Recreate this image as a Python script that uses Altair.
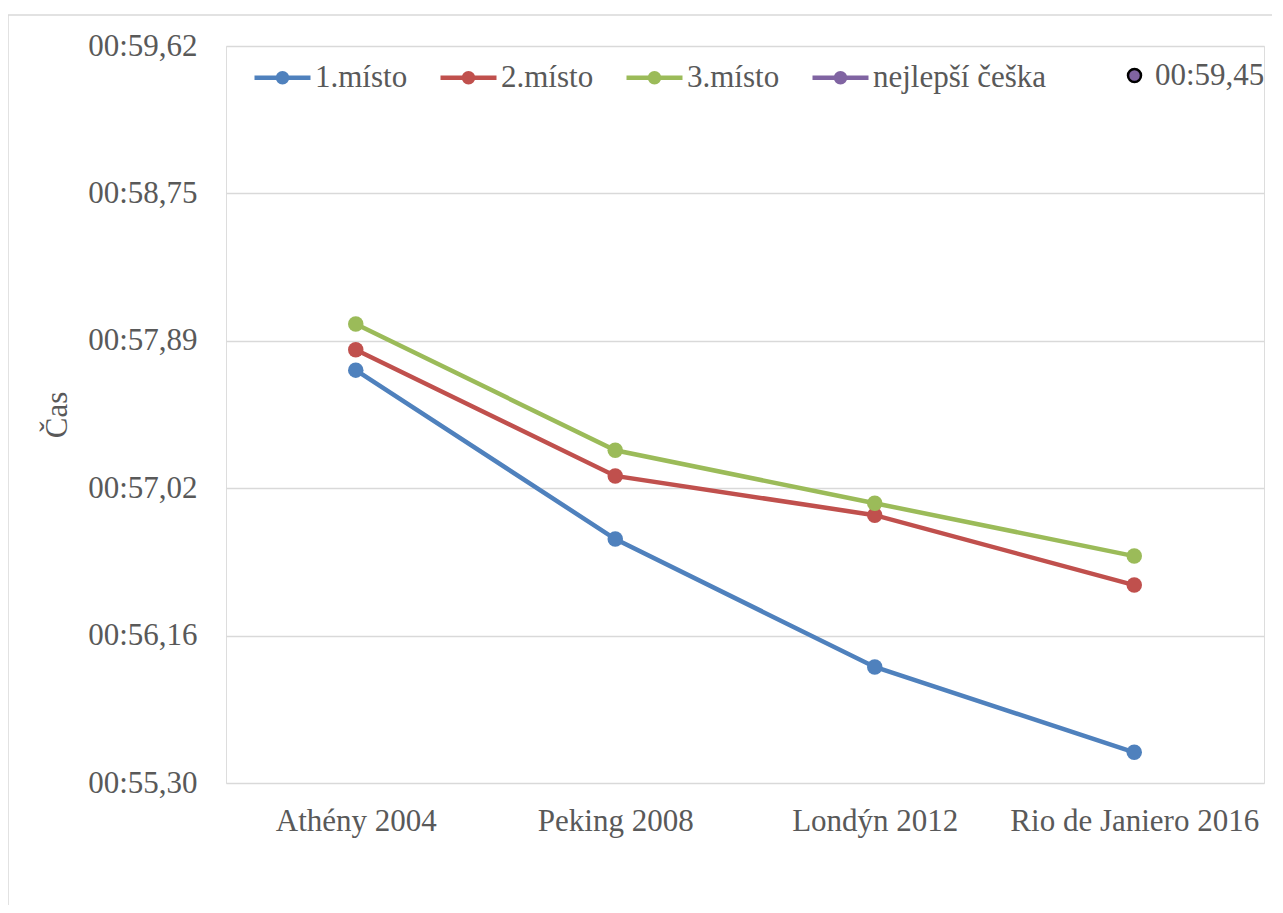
import altair as alt
import pandas as pd

categories = ["Athény 2004", "Peking 2008", "Londýn 2012", "Rio de Janiero 2016"]
first_place = [57.72, 56.73, 55.98, 55.48]
second_place = [57.84, 57.10, 56.87, 56.46]
third_place = [57.99, 57.25, 56.94, 56.63]
best_czech = [None, None, None, None]
series_names = ["1.místo", "2.místo", "3.místo", "nejlepší češka"]
series_colors = ["#4F81BD", "#C0504D", "#9BBB59", "#8064A2"]
extra_label = "00:59,45"
extra_color = "#8064A2"
y_ticks = [55.30, 56.164, 57.028, 57.892, 58.756, 59.62]

rows = []
for name, vals in zip(series_names, [first_place, second_place, third_place, best_czech]):
    for c, v in zip(categories, vals):
        rows.append({"misto": name, "kategorie": c, "cas": v})
df = pd.DataFrame(rows)

FONT = "Liberation Serif"
TXT = "#595959"
W, H = 1038, 737

sym_path = ("M-1,0L1,0"
            "M0.1636,0A0.1636,0.1636,0,1,1,-0.1636,0A0.1636,0.1636,0,1,1,0.1636,0"
            "M0.04,0A0.04,0.04,0,1,1,-0.04,0A0.04,0.04,0,1,1,0.04,0")

main_legend = alt.Legend(
    title=None, orient="none", direction="horizontal", legendX=26, legendY=1,
    symbolType=sym_path, symbolSize=3136, symbolStrokeWidth=4.5,
    labelFont=FONT, labelFontSize=31, labelColor=TXT, labelOffset=2,
    columnPadding=23, labelLimit=400,
)

color = alt.Color("misto:N", sort=series_names,
                  scale=alt.Scale(domain=series_names, range=series_colors),
                  legend=main_legend)

y_axis = alt.Axis(
    values=y_ticks,
    labelExpr="'00:' + replace(format(floor(datum.value*100+0.001)/100, '.2f'), '.', ',')",
    labelFont=FONT, labelFontSize=31, labelColor=TXT, labelPadding=29,
    title="Čas", titleFont=FONT, titleFontSize=31, titleColor=TXT,
    titleFontWeight="normal", titlePadding=14,
    grid=True, gridColor="#D9D9D9", gridWidth=1.5,
    domain=False, ticks=False,
)
x_axis = alt.Axis(
    title=None, labelAngle=0, labelFont=FONT, labelFontSize=31, labelColor=TXT,
    labelPadding=23, labelLimit=400, domain=False, ticks=False, grid=False,
)

base = alt.Chart(df).encode(
    x=alt.X("kategorie:N", sort=categories, axis=x_axis,
            scale=alt.Scale(paddingInner=0, paddingOuter=0)),
    y=alt.Y("cas:Q", axis=y_axis,
            scale=alt.Scale(domain=[55.30, 59.62], nice=False, zero=False)),
    color=color,
)

lines = base.mark_line(strokeWidth=4.5)
points = base.mark_point(filled=True, size=240, opacity=1)

extra = alt.Chart(pd.DataFrame({"m": [extra_label], "kategorie": [categories[0]], "cas": [None]})).mark_point(
    filled=True, stroke="black", strokeWidth=2.5, size=169, opacity=1
).encode(
    x=alt.X("kategorie:N", sort=categories),
    y=alt.Y("cas:Q"),
    fill=alt.Fill("m:N", scale=alt.Scale(domain=[extra_label], range=[extra_color]),
                  legend=alt.Legend(title=None, orient="none", legendX=893, legendY=14,
                                    symbolType="circle", symbolSize=169,
                                    symbolStrokeColor="black", symbolStrokeWidth=2.5,
                                    symbolFillColor=extra_color,
                                    labelFont=FONT, labelFontSize=31, labelColor=TXT,
                                    labelOffset=5, labelLimit=300)),
)

frame_left = alt.Chart(alt.Data(values=[{}])).mark_rule(
    stroke="#D9D9D9", strokeWidth=1.5
).encode(x=alt.value(-218), y=alt.value(-31), y2=alt.value(1000))
frame_top = alt.Chart(alt.Data(values=[{}])).mark_rule(
    stroke="#D9D9D9", strokeWidth=1.5
).encode(x=alt.value(-218), x2=alt.value(1200), y=alt.value(-31))

chart = alt.layer(frame_left, frame_top, lines, points, extra).resolve_scale(fill="independent").properties(
    width=W, height=H,
    autosize=alt.AutoSizeParams(type="none"),
    padding={"left": 218, "top": 38, "right": 8, "bottom": 122},
).configure_view(stroke=None).configure(background="white")

chart.save("out.html", embed_options={"renderer": "svg", "actions": False})
